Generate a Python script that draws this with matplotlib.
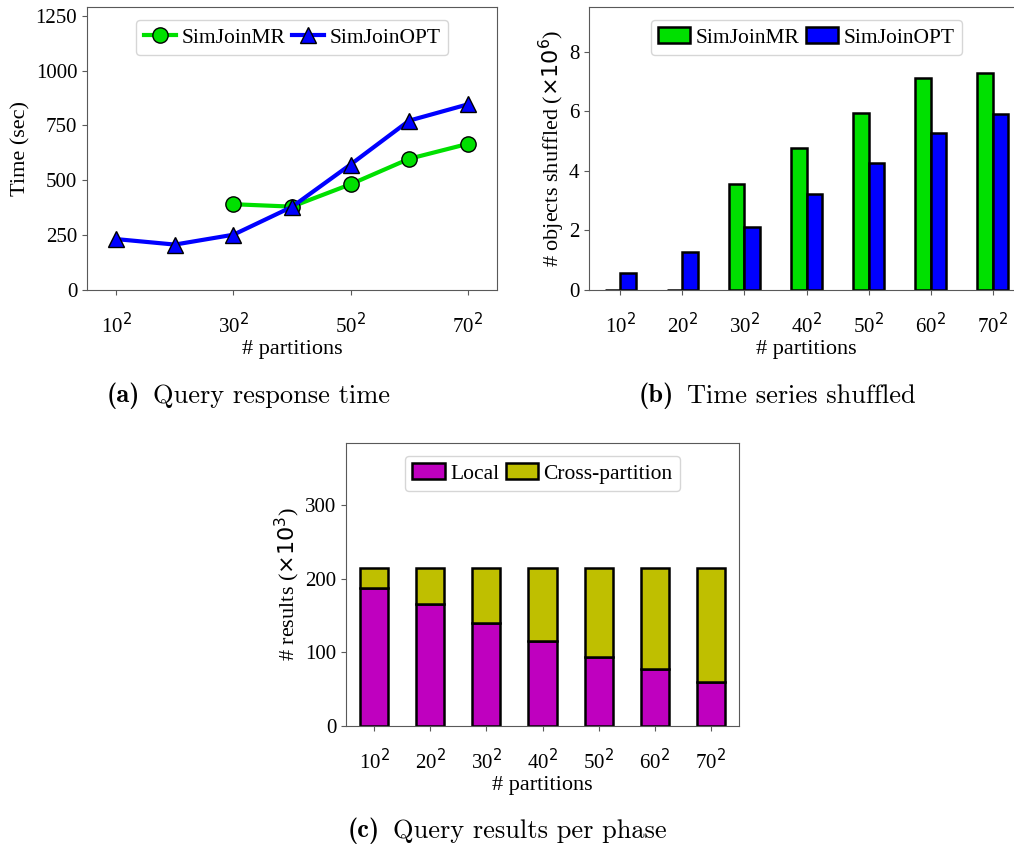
import numpy as np
import matplotlib
matplotlib.use("Agg")
import matplotlib.pyplot as plt

plt.rcParams['font.family'] = ['Liberation Serif', 'DejaVu Sans']
plt.rcParams['mathtext.fontset'] = 'dejavusans'
plt.rcParams['axes.edgecolor'] = '0.35'
plt.rcParams['xtick.color'] = '0.35'
plt.rcParams['ytick.color'] = '0.35'
plt.rcParams['xtick.labelcolor'] = 'black'
plt.rcParams['ytick.labelcolor'] = 'black'

partitions = ['10$^2$', '20$^2$', '30$^2$', '40$^2$', '50$^2$', '60$^2$', '70$^2$']

# (a) query response time in seconds
time_mr = [np.nan, np.nan, 391, 380, 482, 598, 666]
time_opt = [232, 207, 252, 379, 572, 772, 846]

# (b) objects shuffled (x10^6)
shuffled_mr = [0, 0, 3.56, 4.75, 5.93, 7.10, 7.30]
shuffled_opt = [0.58, 1.26, 2.13, 3.21, 4.27, 5.28, 5.90]

# (c) query results per phase (x10^3)
local = [187, 166, 140, 115, 94, 77, 60]
cross = [28, 49, 75, 100, 121, 138, 155]

GREEN = '#00e000'
BLUE = '#0000ff'
MAGENTA = '#bf00bf'
OLIVE = '#bfbf00'

fig = plt.figure(figsize=(10.14, 8.48), dpi=100)
W, H = 1014, 848

def box(l, r, t, b):
    return [l / W, (H - b) / H, (r - l) / W, (b - t) / H]

def style(ax):
    ax.set_xlim(-0.5, 6.5)
    ax.tick_params(labelsize=15)
    ax.tick_params(axis='x', pad=13)
    ax.set_xlabel('# partitions', fontsize=16, labelpad=1)
    ax.legend(loc='upper center', ncol=2, fontsize=15.5, handlelength=1.5, columnspacing=0.3,
              handletextpad=0.25, borderpad=0.35, borderaxespad=0.6)

x = np.arange(len(partitions))

# ---- (a)
ax1 = fig.add_axes(box(87, 497, 7, 290))
ax1.plot(x, time_mr, color=GREEN, lw=3, marker='o', ms=11, mfc=GREEN, mec='black',
         mew=1.0, label='SimJoinMR')
ax1.plot(x, time_opt, color=BLUE, lw=3, marker='^', ms=11, mfc=BLUE, mec='black',
         mew=1.0, label='SimJoinOPT')
ax1.set_ylim(0, 1290)
ax1.set_xticks(x[::2])
ax1.set_xticklabels(partitions[::2])
ax1.set_yticks([0, 250, 500, 750, 1000, 1250])
ax1.set_ylabel('Time (sec)', fontsize=16)
style(ax1)

# ---- (b)
ax2 = fig.add_axes(box(589, 1024, 7, 290))
bw = 0.25
ax2.bar(x - bw / 2, shuffled_mr, bw, color=GREEN, edgecolor='black', lw=1.8, label='SimJoinMR')
ax2.bar(x + bw / 2, shuffled_opt, bw, color=BLUE, edgecolor='black', lw=1.8, label='SimJoinOPT')
ax2.set_ylim(0, 9.5)
ax2.set_xticks(x)
ax2.set_xticklabels(partitions)
ax2.set_yticks([0, 2, 4, 6, 8])
ax2.set_ylabel('# objects shuffled ($\\times 10^6$)', fontsize=16, labelpad=1)
style(ax2)

# ---- (c)
ax3 = fig.add_axes(box(346, 739, 443, 726))
ax3.bar(x, local, 0.5, color=MAGENTA, edgecolor='black', lw=1.8, label='Local')
ax3.bar(x, cross, 0.5, bottom=local, color=OLIVE, edgecolor='black', lw=1.8,
        label='Cross-partition')
ax3.set_ylim(0, 384)
ax3.set_xticks(x)
ax3.set_xticklabels(partitions)
ax3.set_yticks([0, 100, 200, 300])
ax3.set_ylabel('# results ($\\times 10^3$)', fontsize=16, labelpad=2)
style(ax3)

# sub-captions: bold tag followed by the title
captions = [(107, 396, '(a)', 'Query response time'),
            (639, 396, '(b)', 'Time series shuffled'),
            (348, 831, '(c)', 'Query results per phase')]
for cx, cy, tag, txt in captions:
    t = fig.text(cx / W, 1 - cy / H, tag, family='cmb10', fontsize=19,
                 ha='left', va='center')
    ax1.annotate(txt, xy=(1, 0.5), xycoords=t, xytext=(9, 0), textcoords='offset points',
                 family='cmr10', fontsize=19, ha='left', va='center',
                 annotation_clip=False)

fig.savefig('out.png', dpi=100)
